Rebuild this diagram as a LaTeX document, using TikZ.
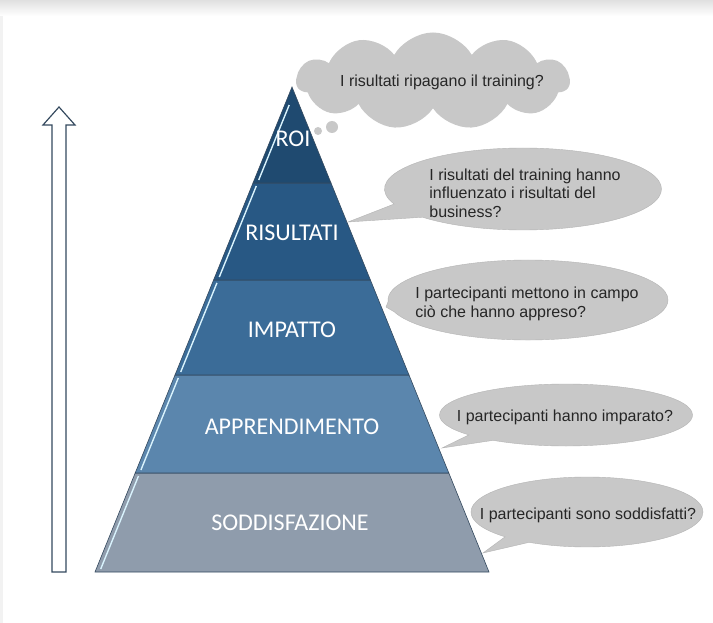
\documentclass[tikz,border=0pt]{standalone}
\usepackage{fontspec}
\setmainfont{Liberation Sans}
\newfontfamily\labelfont{Carlito}
\usetikzlibrary{shapes.callouts,shapes.symbols}
\definecolor{roiblue}{HTML}{1F4A70}
\definecolor{risblue}{HTML}{285884}
\definecolor{impblue}{HTML}{3B6C98}
\definecolor{appblue}{HTML}{5B86AD}
\definecolor{sodgray}{HTML}{8F9CAC}
\definecolor{bubblegray}{HTML}{C8C8C8}
\definecolor{edgeblue}{HTML}{34495E}

\begin{document}
\begin{tikzpicture}[x=1pt,y=-1pt,
    band/.style={fill=#1, draw=edgeblue, line width=0.6pt},
    shine/.style={draw=white!85!cyan, line width=1.4pt},
    bandlabel/.style={text=white, font=\labelfont\fontsize{24}{28}\selectfont},
    bubble/.style={ellipse callout, fill=bubblegray, draw=bubblegray!90!black, line width=0.4pt, inner sep=0pt},
    puff/.style={circle, fill=bubblegray, inner sep=0pt},
    question/.style={text=black!85, align=left, font=\fontsize{16}{18.5}\selectfont}]

  \useasboundingbox (0,0) rectangle (713,623);
  \fill[white] (0,0) rectangle (713,623);
  \shade[top color=black!12, bottom color=white] (0,0) rectangle (713,16);
  \fill[black!5] (0,16) rectangle (3,623);

  % hollow arrow
  \draw[edgeblue, line width=1.2pt, fill=white] (52,572) -- (52,125) -- (43,125) -- (59,107)
    -- (75,125) -- (66,125) -- (66,572) -- cycle;

  % pyramid
  \draw[band=sodgray] (135.2,473) -- (448.8,473) -- (489,572) -- (95,572) -- cycle;
  \draw[band=appblue] (175,375) -- (409,375) -- (448.8,473) -- (135.2,473) -- cycle;
  \draw[band=impblue] (213.6,280) -- (370.4,280) -- (409,375) -- (175,375) -- cycle;
  \draw[band=risblue] (253,183) -- (331,183) -- (370.4,280) -- (213.6,280) -- cycle;
  \draw[band=roiblue] (292,87) -- (331,183) -- (253,183) -- cycle;

  \draw[shine] (138.5,476) -- (100.7,569);
  \draw[shine] (178.3,378) -- (140.9,470);
  \draw[shine] (216.9,283) -- (180.7,372);
  \draw[shine] (256.3,186) -- (219.3,277);
  \draw[shine] (289.2,105) -- (258.7,180);

  \node[bandlabel] (roi) at (293,139) {ROI};
  \node[bandlabel] (risultati) at (292,233) {RISULTATI};
  \node[bandlabel] (impatto) at (292,330) {IMPATTO};
  \node[bandlabel] (apprendimento) at (292,427) {APPRENDIMENTO};
  \node[bandlabel] (soddisfazione) at (290,523) {SODDISFAZIONE};

  % thought cloud
  \node[cloud, cloud puffs=11, cloud puff arc=120, aspect=2.8, fill=bubblegray,
    minimum width=273, minimum height=97, inner sep=0pt] (cloudq) at (433,81) {};
  \node[puff, minimum size=12] (puffa) at (332,127) {};
  \node[puff, minimum size=8] (puffb) at (318,131) {};
  \node[question] (q1) at (442,82) {I risultati ripagano il training?};

  % callouts
  \coordinate (tip2) at (348,222);
  \coordinate (tip3) at (386,307);
  \coordinate (tip4) at (442,448);
  \coordinate (tip5) at (483,553);

  \node[bubble, minimum width=277, minimum height=82, callout pointer arc=22,
    callout absolute pointer={(tip2)}] (b2) at (523,189) {};
  \node[question] (q2) at (525,193) {I risultati del training hanno\\influenzato i risultati del\\business?};

  \node[bubble, minimum width=280, minimum height=80, callout absolute pointer={(tip3)}] (b3) at (528,300) {};
  \node[question] (q3) at (527,304) {I partecipanti mettono in campo\\ciò che hanno appreso?};

  \node[bubble, minimum width=253, minimum height=62, callout absolute pointer={(tip4)}] (b4) at (566,415) {};
  \node[question] (q4) at (565,417) {I partecipanti hanno imparato?};

  \node[bubble, minimum width=232, minimum height=70, callout absolute pointer={(tip5)}] (b5) at (587,512) {};
  \node[question] (q5) at (588,515) {I partecipanti sono soddisfatti?};
\end{tikzpicture}
\end{document}
